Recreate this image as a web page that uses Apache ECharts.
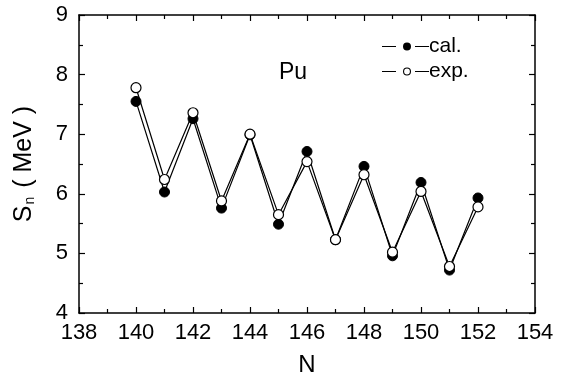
<!DOCTYPE html>
<html>
<head>
<meta charset="utf-8">
<script src="https://cdn.jsdelivr.net/npm/echarts@6/dist/echarts.min.js"></script>
<style>
  html, body { margin: 0; padding: 0; background: #fff; }
  #main { width: 563px; height: 382px; }
</style>
</head>
<body>
<div id="main"></div>
<script>
var neutrons = [140, 141, 142, 143, 144, 145, 146, 147, 148, 149, 150, 151, 152];
var calValues = [7.55, 6.03, 7.26, 5.76, 6.99, 5.49, 6.71, 5.23, 6.46, 4.96, 6.19, 4.72, 5.93];
var expValues = [7.78, 6.24, 7.36, 5.88, 7.0, 5.65, 6.54, 5.23, 6.32, 5.02, 6.04, 4.78, 5.78];
var xTicks = [138, 140, 142, 144, 146, 148, 150, 152, 154];
var yTicks = [4, 5, 6, 7, 8, 9];

function pairs(xs, ys) {
  return xs.map(function (x, i) { return [x, ys[i]]; });
}

var font = "Liberation Sans, Arial, sans-serif";
var axisLine = { show: true, onZero: false, lineStyle: { color: "#000", width: 1.5 } };
var axisTick = { show: true, inside: true, length: 6, lineStyle: { color: "#000", width: 1.2 } };
var minorTick = { show: true, splitNumber: 2, length: 4, lineStyle: { color: "#000", width: 1.2 } };

// legend icons: short line, marker, short line (gap around the marker)
var calIcon = "path://M0,3.4H14V4.6H0Z M21,4A4,4 0 1 1 29,4A4,4 0 1 1 21,4Z M33,3.4H47V4.6H33Z";
var expIcon = "path://M0,3.4H14V4.6H0Z M21,4A4,4 0 1 1 29,4A4,4 0 1 1 21,4Z M22.1,4A2.9,2.9 0 1 0 27.9,4A2.9,2.9 0 1 0 22.1,4Z M33,3.4H47V4.6H33Z";

var chart = echarts.init(document.getElementById("main"), null, { renderer: "canvas" });

var option = {
  animation: false,
  backgroundColor: "#fff",
  grid: { left: 79, right: 28, top: 15, bottom: 67 },
  legend: {
    left: 377,
    top: 31,
    orient: "vertical",
    itemWidth: 49,
    itemHeight: 8,
    itemGap: 4,
    textStyle: { fontFamily: font, fontSize: 21, color: "#000", padding: [0, 0, 0, -6] },
    data: [
      { name: "cal.", icon: calIcon, itemStyle: { color: "#000", borderWidth: 0 } },
      { name: "exp.", icon: expIcon, itemStyle: { color: "#000", borderWidth: 0 } }
    ]
  },
  graphic: [
    {
      type: "text",
      left: 279,
      top: 61,
      style: { text: "Pu", fontFamily: font, fontSize: 23, fill: "#000" }
    }
  ],
  xAxis: [
    {
      type: "value",
      min: xTicks[0],
      max: xTicks[xTicks.length - 1],
      interval: 2,
      name: "N",
      nameLocation: "middle",
      nameGap: 40,
      nameTextStyle: { fontFamily: font, fontSize: 24, color: "#000" },
      axisLine: axisLine,
      axisTick: axisTick,
      minorTick: minorTick,
      splitLine: { show: false },
      axisLabel: { fontFamily: font, fontSize: 22, color: "#000", margin: 9 }
    },
    {
      type: "value",
      position: "top",
      min: xTicks[0],
      max: xTicks[xTicks.length - 1],
      interval: 2,
      axisLine: axisLine,
      axisTick: axisTick,
      minorTick: minorTick,
      splitLine: { show: false },
      axisLabel: { show: false }
    }
  ],
  yAxis: [
    {
      type: "value",
      min: yTicks[0],
      max: yTicks[yTicks.length - 1],
      interval: 1,
      name: "{s|S}{sub|n}{s| ( MeV )}",
      nameLocation: "middle",
      nameGap: 42,
      nameTextStyle: {
        color: "#000",
        rich: {
          s: { fontFamily: font, fontSize: 25, color: "#000" },
          sub: { fontFamily: font, fontSize: 14, color: "#000", verticalAlign: "bottom", padding: [12, 2, 0, 1] }
        }
      },
      axisLine: axisLine,
      axisTick: axisTick,
      minorTick: minorTick,
      splitLine: { show: false },
      axisLabel: { fontFamily: font, fontSize: 22, color: "#000", margin: 11 }
    },
    {
      type: "value",
      position: "right",
      min: yTicks[0],
      max: yTicks[yTicks.length - 1],
      interval: 1,
      axisLine: axisLine,
      axisTick: axisTick,
      minorTick: minorTick,
      splitLine: { show: false },
      axisLabel: { show: false }
    }
  ],
  series: [
    {
      name: "cal.",
      type: "line",
      data: pairs(neutrons, calValues),
      symbol: "circle",
      symbolSize: 10,
      lineStyle: { color: "#000", width: 1.2 },
      itemStyle: { color: "#000", borderColor: "#000", borderWidth: 1 },
      z: 2
    },
    {
      name: "exp.",
      type: "line",
      data: pairs(neutrons, expValues),
      symbol: "circle",
      symbolSize: 10,
      lineStyle: { color: "#000", width: 1.2 },
      itemStyle: { color: "#fff", borderColor: "#000", borderWidth: 1.2 },
      z: 3
    }
  ]
};

chart.setOption(option);
</script>
</body>
</html>
